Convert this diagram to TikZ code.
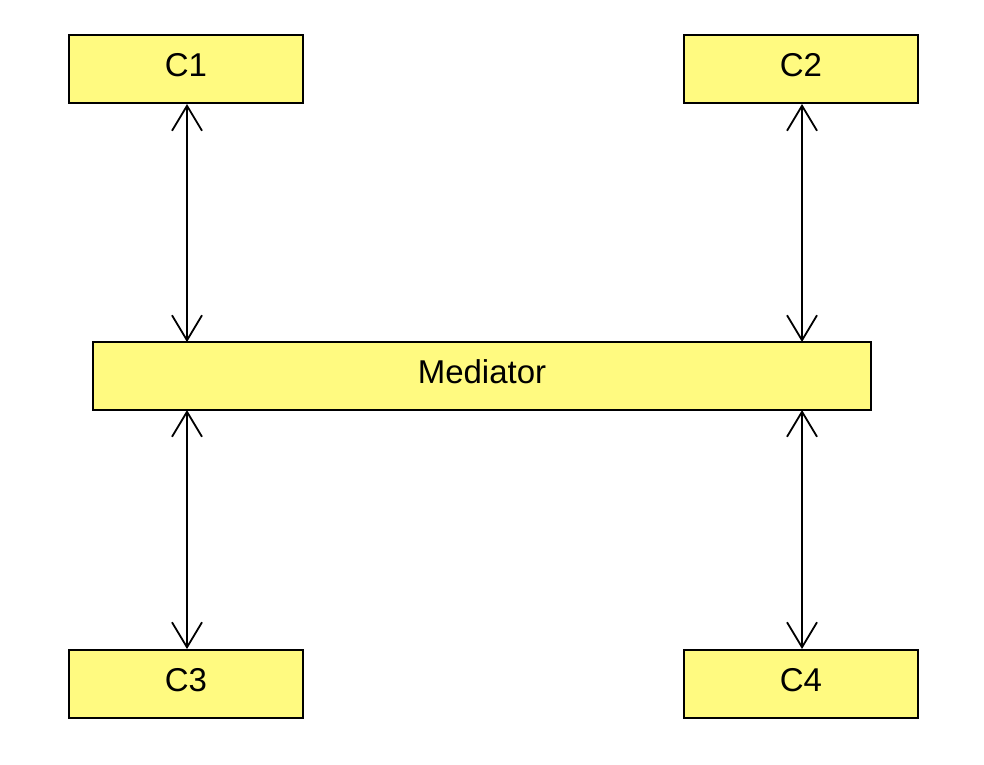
\documentclass[tikz,border=0pt]{standalone}
\usepackage{fontspec}
\setmainfont{Liberation Sans}
\usetikzlibrary{arrows.meta}
\definecolor{boxfill}{RGB}{255,250,128}
\newcommand{\lifttext}[1]{\raisebox{9pt}{#1}}
\begin{document}
\begin{tikzpicture}[x=1pt,y=-1pt,
  cls/.style={draw=black, line width=2pt, fill=boxfill, minimum width=234pt, minimum height=68pt, inner sep=0pt, font=\fontsize{33}{38}\selectfont},
  link/.style={line width=1.8pt, {Straight Barb[length=25pt,width=30pt,line width=1.8pt]}-{Straight Barb[length=25pt,width=30pt,line width=1.8pt]}}]
\useasboundingbox (0,0) rectangle (984,764);
\fill[white] (0,0) rectangle (984,764);
\node[cls] (c1) at (186,69) {\lifttext{C1}};
\node[cls] (c2) at (801,69) {\lifttext{C2}};
\node[cls, minimum width=778pt] (m) at (482,376) {\lifttext{Mediator}};
\node[cls] (c3) at (186,684) {\lifttext{C3}};
\node[cls] (c4) at (801,684) {\lifttext{C4}};
\coordinate (m1t) at (187,342);
\coordinate (m2t) at (802,342);
\coordinate (m1b) at (187,410);
\coordinate (m2b) at (802,410);
\draw[link] (c1.south -| m1t) -- (m1t);
\draw[link] (c2.south -| m2t) -- (m2t);
\draw[link] (m1b) -- (c3.north -| m1b);
\draw[link] (m2b) -- (c4.north -| m2b);
\end{tikzpicture}
\end{document}
